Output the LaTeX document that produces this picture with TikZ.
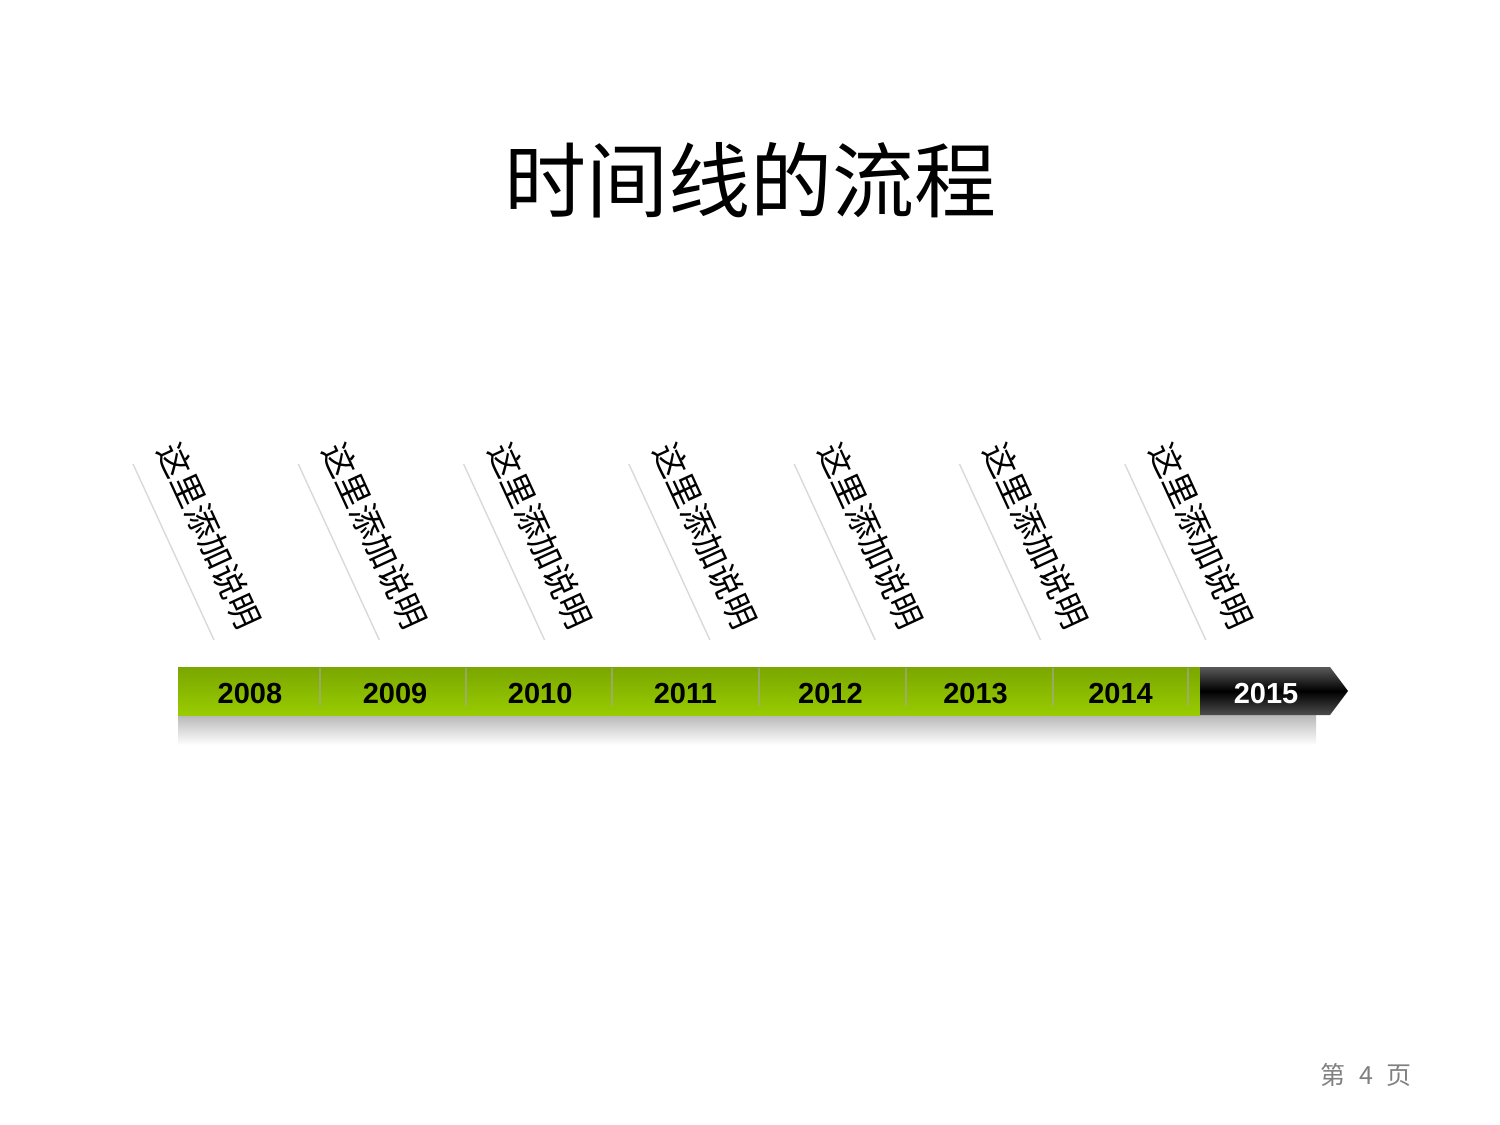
\documentclass[tikz,border=0pt]{standalone}
\usepackage{fontspec}
\setmainfont{Liberation Sans}
\newfontfamily\cjk{Noto Sans CJK SC}
\begin{document}
\begin{tikzpicture}[x=0.5pt,y=-0.5pt,
  titletext/.style={font=\cjk\fontsize{41}{48}\selectfont, inner sep=0},
  notetext/.style={font=\cjk\fontsize{16.6}{19}\selectfont, rotate=-65.3, inner sep=0},
  yeartext/.style={font=\bfseries\fontsize{14.5}{17}\selectfont, inner sep=0},
  pagetext/.style={font=\cjk\fontsize{12.5}{14}\selectfont, text=black!50, inner sep=0},
  guide/.style={draw=black!15, line width=0.7pt},
  divider/.style={draw=black!35, line width=0.8pt, opacity=0.6}]
\useasboundingbox (0,0) rectangle (1500,1125);
% title
\node[titletext] (title) at (750,180) {时间线的流程};
% shadow
\fill[top color=black!28, bottom color=white] (178,715) rectangle (1316,745);
% green bar
\path[top color={rgb,255:red,122;green,166;blue,0}, bottom color={rgb,255:red,153;green,204;blue,0}]
  (178,667) rectangle (1200,715);
% black arrow
\path[top color=black!65, bottom color=black!70, middle color=black]
  (1200,667) -- (1330,667) -- (1348,691) -- (1330,715) -- (1200,715) -- cycle;
% dividers
\foreach \x [count=\i] in {320,466,612,759,906,1053,1188} {
  \coordinate (d\i t) at (\x,668);
  \coordinate (d\i b) at (\x,706);
  \draw[divider] (d\i t) -- (d\i b);
}
% years
\foreach \y [count=\i from 0] in {2008,2009,2010,2011,2012,2013,2014} {
  \node[yeartext] (y\y) at ({250+145.1*\i},694) {\y};
}
\node[yeartext, text=white] (y2015) at (1266,694) {2015};
% notes and guides
\foreach \i in {0,...,6} {
  \coordinate (g\i a) at ({133+165.3*\i},464);
  \coordinate (g\i b) at ({214+165.3*\i},640);
  \draw[guide] (g\i a) -- (g\i b);
  \node[notetext] (n\i) at ({209.5+165.3*\i},536) {这里添加说明};
}
% page number
\node[pagetext] (page) at (1366,1075) {第\hspace{0.55em}4\hspace{0.55em}页};
\end{tikzpicture}
\end{document}
